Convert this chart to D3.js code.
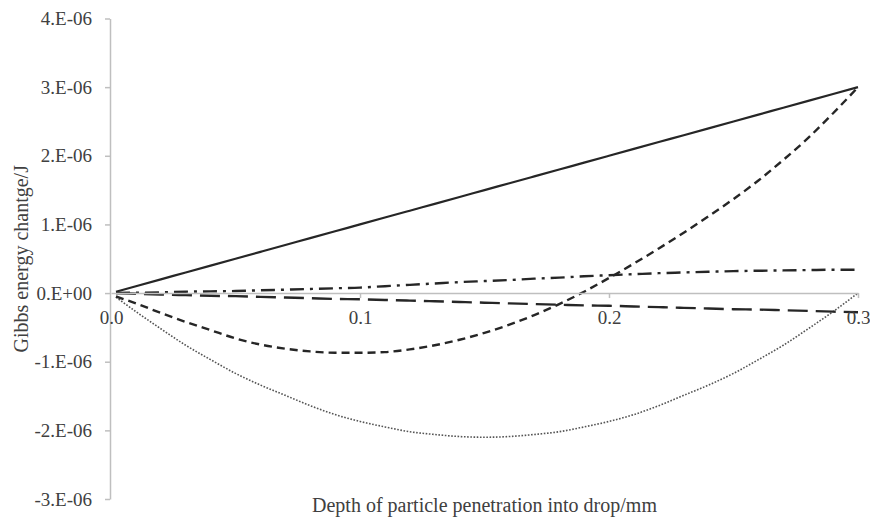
<!DOCTYPE html>
<html>
<head>
<meta charset="utf-8">
<script src="https://cdn.jsdelivr.net/npm/d3@7"></script>
<style>
  body { margin: 0; background: #fff; }
  svg { display: block; }
</style>
</head>
<body>
<svg id="chart" width="870" height="519"></svg>
<script>
// Penetration depth (mm) at which every curve is sampled
const depth = [0.002, 0.01, 0.02, 0.03, 0.04, 0.05, 0.06, 0.07, 0.08, 0.09,
               0.10, 0.11, 0.12, 0.13, 0.14, 0.15, 0.16, 0.17, 0.18, 0.19,
               0.20, 0.21, 0.22, 0.23, 0.24, 0.25, 0.26, 0.27, 0.28, 0.29, 0.30];

// Gibbs energy change, in units of 1E-06 J
const solidSeries = [0.02, 0.10, 0.20, 0.30, 0.40, 0.50, 0.60, 0.70, 0.80, 0.90,
                     1.00, 1.10, 1.20, 1.30, 1.40, 1.50, 1.60, 1.70, 1.80, 1.90,
                     2.00, 2.10, 2.20, 2.30, 2.40, 2.50, 2.60, 2.70, 2.80, 2.90, 3.00];
const shortDashSeries = [-0.05, -0.15, -0.29, -0.42, -0.54, -0.66, -0.75, -0.81, -0.85, -0.87,
                         -0.87, -0.86, -0.82, -0.76, -0.68, -0.58, -0.46, -0.32, -0.16, 0.02,
                         0.22, 0.43, 0.65, 0.88, 1.12, 1.37, 1.64, 1.94, 2.26, 2.62, 3.00];
const dashDotSeries = [0.00, 0.005, 0.01, 0.02, 0.025, 0.03, 0.04, 0.05, 0.06, 0.07,
                       0.08, 0.10, 0.12, 0.14, 0.16, 0.175, 0.19, 0.21, 0.225, 0.245,
                       0.26, 0.275, 0.29, 0.30, 0.31, 0.32, 0.325, 0.33, 0.335, 0.34, 0.34];
const longDashSeries = [0.00, -0.01, -0.02, -0.03, -0.04, -0.045, -0.055, -0.065, -0.075, -0.085,
                        -0.09, -0.10, -0.11, -0.12, -0.13, -0.14, -0.15, -0.16, -0.17, -0.18,
                        -0.185, -0.195, -0.205, -0.215, -0.225, -0.235, -0.24, -0.25, -0.26, -0.27, -0.28];
const dottedSeries = [-0.06, -0.27, -0.52, -0.76, -0.97, -1.17, -1.34, -1.49, -1.64, -1.77,
                      -1.87, -1.95, -2.02, -2.06, -2.09, -2.10, -2.09, -2.06, -2.02, -1.95,
                      -1.87, -1.77, -1.64, -1.49, -1.34, -1.17, -0.97, -0.76, -0.52, -0.27, 0.00];

// Axis ticks and their labels
const xTicks = [0.0, 0.1, 0.2, 0.3];
const xTickLabels = ["0.0", "0.1", "0.2", "0.3"];
const yTicks = [-3, -2, -1, 0, 1, 2, 3, 4];
const yTickLabels = ["-3.E-06", "-2.E-06", "-1.E-06", "0.E+00", "1.E-06", "2.E-06", "3.E-06", "4.E-06"];

const xTitle = "Depth of particle penetration into drop/mm";
const yTitle = "Gibbs energy chantge/J";

const FONT = '"Liberation Serif", "Times New Roman", Tinos, "DejaVu Serif", serif';
const TEXT_COLOR = "#404040";

const svg = d3.select("#chart");
const plot = { left: 111, right: 858, top: 18.5, bottom: 499 };

const x = d3.scaleLinear().domain([0, 0.3]).range([plot.left, plot.right]);
const y = d3.scaleLinear().domain([-3, 4]).range([plot.bottom, plot.top]);

const axisColor = "#bfbfbf";

function styleText(sel, size) {
  sel.style("font-family", FONT)
     .style("font-size", size + "px")
     .style("fill", TEXT_COLOR);
}

// Vertical axis at the left edge
const yAxis = svg.append("g")
  .attr("transform", `translate(${plot.left - 1},0)`)
  .call(d3.axisLeft(y)
    .tickValues(yTicks)
    .tickSize(5)
    .tickSizeOuter(0)
    .tickPadding(13)
    .tickFormat((d, i) => yTickLabels[i]));
yAxis.select(".domain").attr("stroke", axisColor).attr("stroke-width", 1.5);
yAxis.selectAll(".tick line").attr("stroke", axisColor).attr("stroke-width", 1.5);
styleText(yAxis.selectAll(".tick text"), 19);

// Horizontal axis crossing at zero energy
const xAxis = svg.append("g")
  .attr("transform", `translate(0,${y(0)})`)
  .call(d3.axisBottom(x)
    .tickValues(xTicks)
    .tickSize(5)
    .tickSizeOuter(0)
    .tickFormat((d, i) => xTickLabels[i]));
xAxis.select(".domain").attr("stroke", axisColor).attr("stroke-width", 1.5);
xAxis.selectAll(".tick line")
  .attr("stroke", (d, i) => i === 0 ? "none" : axisColor)
  .attr("stroke-width", 1.5);

// Curves
const line = d3.line()
  .x((d, i) => x(depth[i]))
  .y(d => y(d))
  .curve(d3.curveMonotoneX);

const series = [
  { values: dottedSeries,    dash: "1.6,1.6",  width: 1.6, color: "#555555" },
  { values: longDashSeries,  dash: "20,8",     width: 2.4, color: "#262626" },
  { values: dashDotSeries,   dash: "14,6,3,6", width: 2.4, color: "#262626" },
  { values: shortDashSeries, dash: "8,5",      width: 2.4, color: "#262626" },
  { values: solidSeries,     dash: null,       width: 2.2, color: "#262626" }
];

svg.append("g")
  .selectAll("path")
  .data(series)
  .join("path")
  .attr("d", s => line(s.values))
  .attr("fill", "none")
  .attr("stroke", s => s.color)
  .attr("stroke-width", s => s.width)
  .attr("stroke-dasharray", s => s.dash)
  .attr("stroke-linejoin", "round");

// Horizontal tick labels sit just under the zero line, over the curves
xAxis.selectAll(".tick text")
  .attr("y", 31)
  .attr("dy", 0);
styleText(xAxis.selectAll(".tick text"), 19);
xAxis.raise();

// Axis titles
svg.append("text")
  .attr("x", (plot.left + plot.right) / 2)
  .attr("y", 512)
  .attr("text-anchor", "middle")
  .call(styleText, 20)
  .text(xTitle);

svg.append("text")
  .attr("transform", `translate(28,${(plot.top + plot.bottom) / 2}) rotate(-90)`)
  .attr("text-anchor", "middle")
  .call(styleText, 20)
  .text(yTitle);
</script>
</body>
</html>
